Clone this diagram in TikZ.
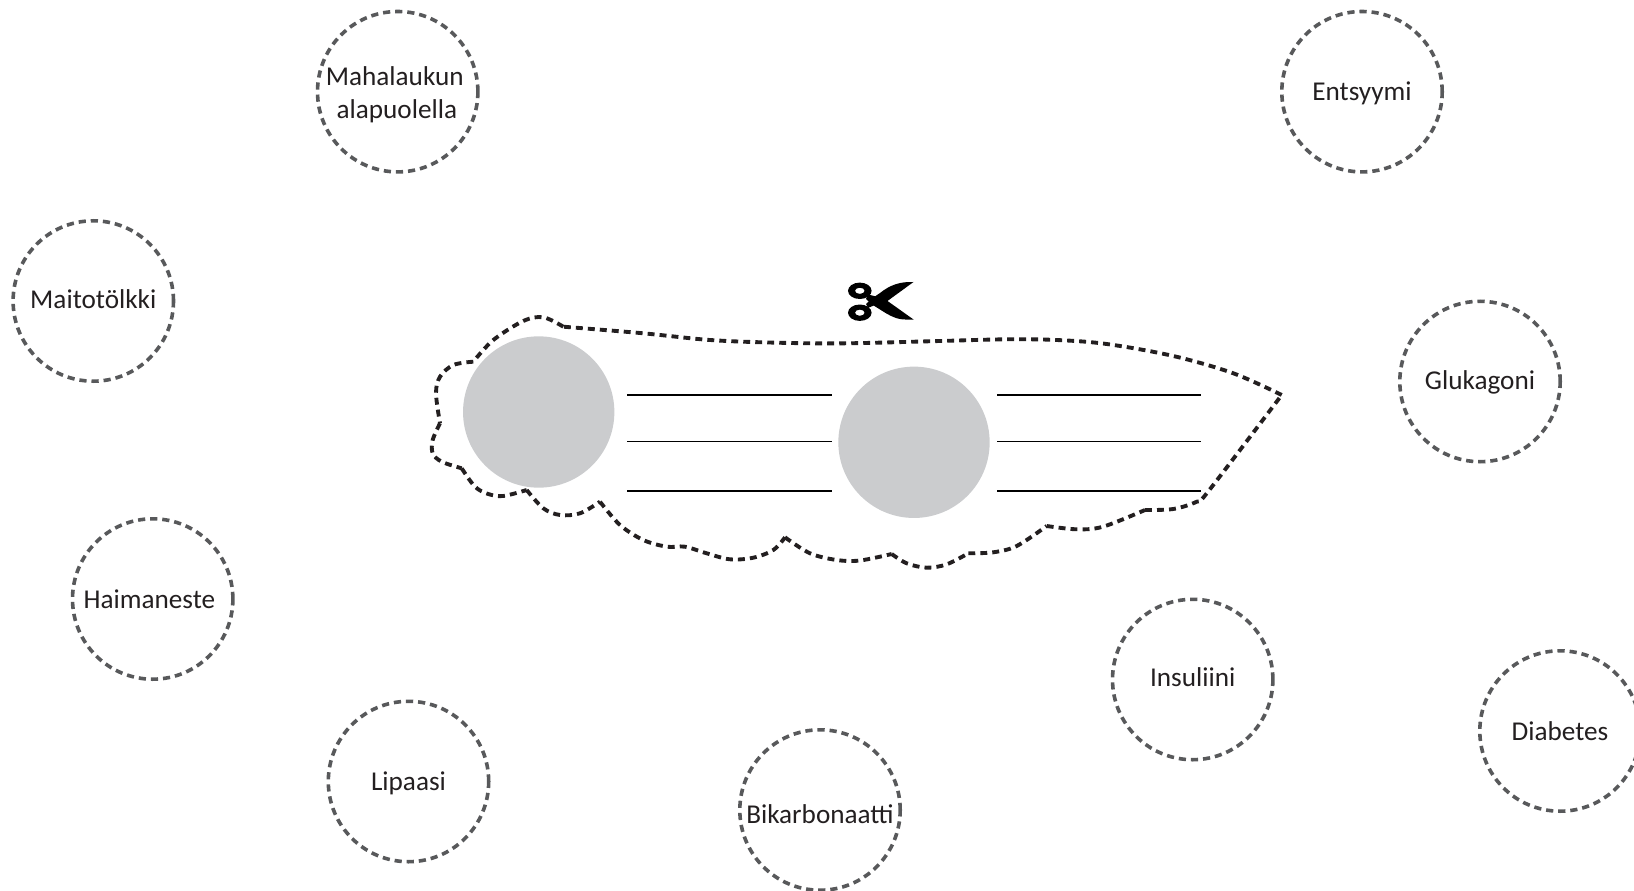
\documentclass[tikz,border=0pt]{standalone}
\usepackage{fontspec}
\setmainfont{Carlito}
\definecolor{bubblegrey}{HTML}{58595B}
\definecolor{cutblack}{HTML}{231F20}
\definecolor{discgrey}{HTML}{CBCCCE}
\newcommand\tx[3]{\hspace*{#1pt}\raisebox{#2pt}[14pt][4pt]{#3}}
\tikzset{
  bubble/.style={circle,draw=bubblegrey,line width=2.7pt,dash pattern=on 5.4pt off 3.7pt,
    minimum size=120.3pt,inner sep=0pt,align=center,text=cutblack,
    font=\fontsize{20.4pt}{24.6pt}\selectfont},
  disc/.style={circle,fill=discgrey,draw=none,minimum size=113.5pt,inner sep=0pt},
  cutline/.style={draw=cutblack,line width=2.9pt,dash pattern=on 5.2pt off 3.8pt},
  wline/.style={draw=black,line width=.85pt},
  seg/.style={smooth,tension=.55}
}
\begin{document}
\begin{tikzpicture}[x=.75pt,y=-.75pt]
\useasboundingbox (0,0) rectangle (1634,891);
% answer discs
\node[disc] (d1) at (538.7,412) {};
\node[disc] (d2) at (914,442.3) {};
% cutting outline
\path[cutline] plot[seg] coordinates {(563.3,326.7)(543.3,317.3)(523.3,321)(493.3,340)(473.3,361.7)};
\path[cutline] plot[seg] coordinates {(473.3,361.7)(453.3,365)(440,376.7)(436,393.3)(440,423.3)};
\path[cutline] plot[seg] coordinates {(440,423.3)(432.7,440)(432.7,453.3)(441.7,461.7)(461.7,468.3)};
\path[cutline] plot[seg] coordinates {(461.7,468.3)(475,486.7)(488.3,494)(503.3,496)(526.7,490)};
\path[cutline] plot[seg] coordinates {(526.7,490)(543.3,508.3)(560,515)(580,513.3)(600,501.7)};
\path[cutline] plot[seg] coordinates {(600,501.7)(620,525)(643.3,540)(666.7,546.7)(685,546.7)(706.7,553.3)(730,559.3)(753.3,557.7)(773.3,550)(785,537.3)};
\path[cutline] plot[seg] coordinates {(785,537.3)(810,553.3)(836.7,560)(860,560.5)(891.7,554)};
\path[cutline] plot[seg] coordinates {(891.7,554)(906.7,563.3)(926.7,567.7)(946.7,564.3)(968.3,553.3)};
\path[cutline] plot[seg] coordinates {(968.3,553.3)(993.3,552.3)(1016.7,546)(1046.7,526)};
\path[cutline] plot[seg] coordinates {(1046.7,526)(1076.7,529.3)(1103,526.7)(1145,510)};
\path[cutline] plot[seg] coordinates {(1145,510)(1173.3,509)(1196.7,501.7)(1208,491.7)(1281.7,395)};
\path[cutline] plot[seg] coordinates {(1281.7,395)(1233.3,373.3)(1173.3,356)(1106.7,344)(1056.7,340)(1006.7,339.3)(940,341)(846.7,343.3)(776.7,342.7)(710,340)(643.3,333.3)(563.3,326.7)};
% writing lines
\coordinate (a1) at (627,395); \coordinate (a2) at (832,395);
\coordinate (b1) at (627,441.5); \coordinate (b2) at (832,441.5);
\coordinate (c1) at (627,491); \coordinate (c2) at (832,491);
\coordinate (e1) at (997,395); \coordinate (e2) at (1201,395);
\coordinate (f1) at (997,441.5); \coordinate (f2) at (1201,441.5);
\coordinate (g1) at (997,491); \coordinate (g2) at (1201,491);
\draw[wline] (a1)--(a2); \draw[wline] (b1)--(b2); \draw[wline] (c1)--(c2);
\draw[wline] (e1)--(e2); \draw[wline] (f1)--(f2); \draw[wline] (g1)--(g2);
% scissors
\fill[black,even odd rule] (859.8,290.8) ellipse [x radius=11.8,y radius=8.2]
  (859.8,290.8) ellipse [x radius=4.8,y radius=3.1]
  (859.8,312.7) ellipse [x radius=11.8,y radius=8.2]
  (859.8,312.7) ellipse [x radius=4.8,y radius=3.1];
\fill[black] (913.5,282) .. controls (900,281.5) and (890,285) .. (880,293)
  -- (872,298.5) -- (866,304) -- (868,308) -- (876,304.5) -- (884,303.5) -- cycle;
\fill[black] (913.5,319.5) -- (884,298.5) -- (876,296.5) -- (868,294.5) -- (866,299) -- (872,304.5)
  -- (880,309.5) .. controls (890,316) and (897,319.5) .. (905,319.5) -- cycle;
% bubbles
\node[bubble] (n1) at (397.7,91.7) {\tx{-4.4}{-2.7}{Mahalaukun}\\\tx{-1.2}{-2.7}{alapuolella}};
\node[bubble] (n2) at (1362,91.7) {\tx{0}{-1.5}{Entsyymi}};
\node[bubble] (n3) at (93.3,301) {\tx{0}{-.8}{Maitotölkki}};
\node[bubble] (n4) at (1480,381.5) {\tx{0}{-.8}{Glukagoni}};
\node[bubble] (n5) at (152.7,599) {\tx{-5}{-2.3}{Haimaneste}};
\node[bubble] (n6) at (1192.7,679.5) {\tx{0}{0}{Insuliini}};
\node[bubble] (n7) at (1560,731) {\tx{0}{-2.3}{Diabetes}};
\node[bubble] (n8) at (408.5,781.5) {\tx{0}{-1.5}{Lipaasi}};
\node[bubble] (n9) at (820,810) {\tx{0}{-5}{Bikarbonaatti}};
\end{tikzpicture}
\end{document}
